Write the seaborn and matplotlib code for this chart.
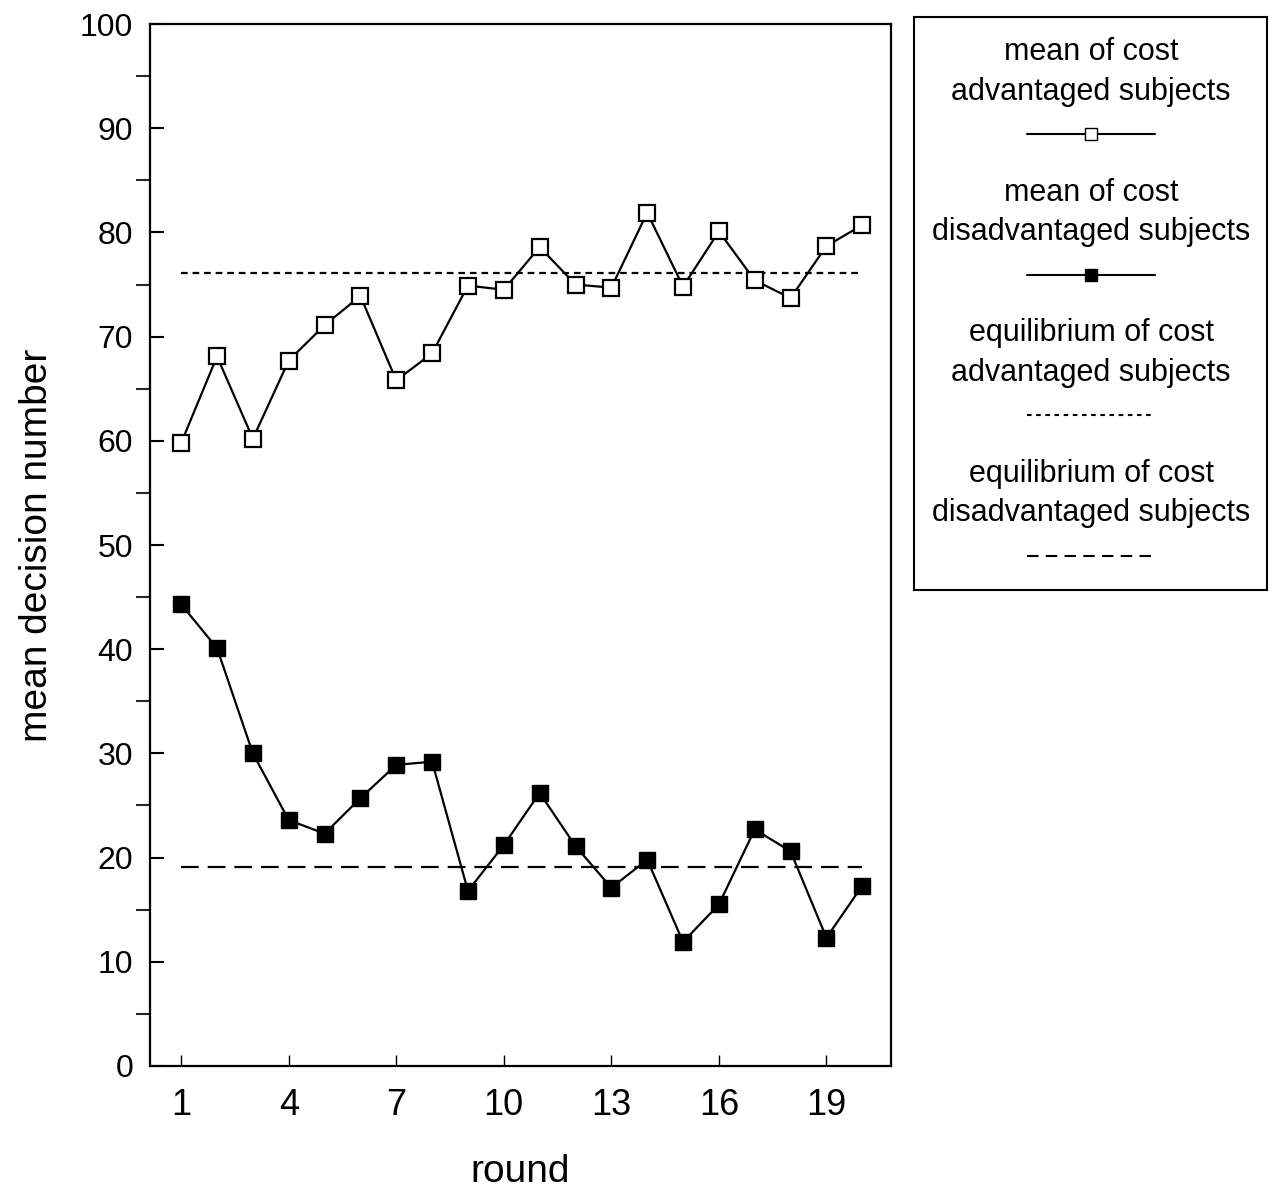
import seaborn as sns
import matplotlib.pyplot as plt
import pandas as pd

sns.set_style("ticks")
plt.rcParams['font.family'] = ['Liberation Sans', 'DejaVu Sans']
plt.rcParams['text.color'] = 'black'
plt.rcParams['axes.labelcolor'] = 'black'

# data
rounds = list(range(1, 21))
adv_mean = [59.8, 68.1, 60.2, 67.7, 71.1, 73.9, 65.8, 68.4, 74.9, 74.5,
            78.6, 75.0, 74.7, 81.9, 74.8, 80.1, 75.4, 73.7, 78.7, 80.7]
dis_mean = [44.3, 40.1, 30.0, 23.6, 22.3, 25.7, 28.9, 29.2, 16.8, 21.2,
            26.2, 21.1, 17.1, 19.8, 11.9, 15.5, 22.7, 20.6, 12.3, 17.3]
adv_eq = 76.1
dis_eq = 19.1
x_ticks = [1, 4, 7, 10, 13, 16, 19]
y_ticks = list(range(0, 101, 10))
legend_labels = ["mean of cost\nadvantaged subjects",
                 "mean of cost\ndisadvantaged subjects",
                 "equilibrium of cost\nadvantaged subjects",
                 "equilibrium of cost\ndisadvantaged subjects"]

df = pd.DataFrame({'round': rounds, 'adv': adv_mean, 'dis': dis_mean,
                   'adv_eq': [adv_eq] * len(rounds),
                   'dis_eq': [dis_eq] * len(rounds)})

fig = plt.figure(figsize=(12.69, 11.91), dpi=100)
ax = fig.add_axes([0.1182, 0.1050, 0.5839, 0.8748])

dotted = (0, (3.0, 2.2))
dashed = (0, (8.0, 4.0))

sns.lineplot(data=df, x='round', y='adv_eq', ax=ax, color='black',
             linewidth=1.6, linestyle=dotted)
sns.lineplot(data=df, x='round', y='dis_eq', ax=ax, color='black',
             linewidth=1.6, linestyle=dashed)
sns.lineplot(data=df, x='round', y='adv', ax=ax, color='black', linewidth=1.6,
             marker='s', markersize=11, markerfacecolor='white',
             markeredgecolor='black', markeredgewidth=1.6)
sns.lineplot(data=df, x='round', y='dis', ax=ax, color='black', linewidth=1.6,
             marker='s', markersize=11, markerfacecolor='black',
             markeredgecolor='black', markeredgewidth=1.0)

ax.set_xlim(0.13, 20.8)
ax.set_ylim(0, 100)
ax.set_xticks(x_ticks)
ax.set_yticks(y_ticks)
ax.set_yticks(list(range(5, 100, 10)), minor=True)
ax.tick_params(axis='both', direction='in', colors='black')
ax.tick_params(axis='y', which='major', length=10, width=1.5, pad=12,
               labelsize=23)
ax.tick_params(axis='y', which='minor', length=10, width=1.5)
ax.tick_params(axis='x', which='major', length=8, width=1, pad=16,
               labelsize=26)
for s in ax.spines.values():
    s.set_linewidth(1.6)
    s.set_color('black')
ax.set_xlabel('round', fontsize=28, labelpad=22)
ax.set_ylabel('mean decision number', fontsize=28, labelpad=18)

# custom legend box: labels centred with the line sample below each
lax = fig.add_axes([0.7203, 0.5046, 0.2781, 0.4811])
lax.set_xlim(914, 1267)
lax.set_ylim(590, 17)
lax.set_xticks([])
lax.set_yticks([])
for s in lax.spines.values():
    s.set_linewidth(1.5)
    s.set_color('black')

styles = [dict(marker='s', mfc='white', mec='black', ms=9, ls='-'),
          dict(marker='s', mfc='black', mec='black', ms=9, ls='-'),
          dict(marker='', ls=(0, (2.2, 2.2))),
          dict(marker='', ls=(0, (5.5, 3.5)))]
for i, (label, st) in enumerate(zip(legend_labels, styles)):
    top = 52 + i * 140.5
    lax.text(1091, top + 20, label, ha='center', va='center', fontsize=22,
             linespacing=1.4, color='black')
    lax.plot([1027, 1091, 1155], [top + 82] * 3, color='black', lw=1.5,
             markevery=[1], **st)

plt.savefig('out.png', dpi=100)
